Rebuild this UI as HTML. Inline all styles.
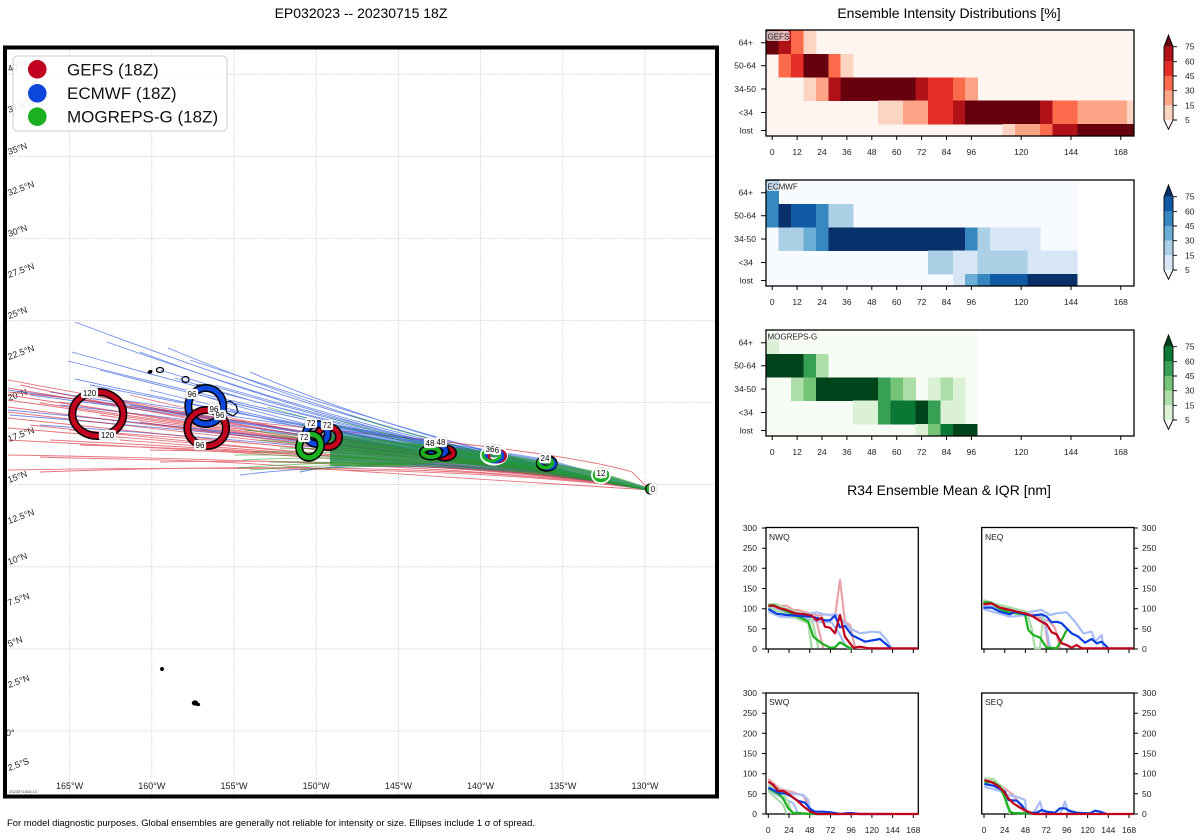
<!DOCTYPE html>
<html><head><meta charset="utf-8"><style>
html,body{margin:0;padding:0;background:#fff;}
svg{display:block;font-family:"Liberation Sans","DejaVu Sans",sans-serif;}
.trk path{fill:none;stroke-width:0.9;}
.pl{fill:none;stroke-linejoin:round;}
</style></head><body>
<svg width="1200" height="840" viewBox="0 0 1200 840" xmlns="http://www.w3.org/2000/svg">
<rect width="1200" height="840" fill="#fff"/>
<defs>
<clipPath id="mapclip"><rect x="7" y="49" width="709" height="746"/></clipPath>
<clipPath id="hm1"><rect x="766" y="30" width="368" height="106"/></clipPath>
<clipPath id="hm2"><rect x="766" y="180" width="368" height="106"/></clipPath>
<clipPath id="hm3"><rect x="766" y="330" width="368" height="106"/></clipPath>
</defs>

<!-- ===== MAP ===== -->
<text x="361" y="18" font-size="14" text-anchor="middle">EP032023 -- 20230715 18Z</text>
<g clip-path="url(#mapclip)">
<g stroke="#c8c8c8" stroke-width="0.8" stroke-dasharray="1.2,1.2">
<line x1="69.6" y1="47" x2="69.6" y2="797"/><line x1="151.8" y1="47" x2="151.8" y2="797"/><line x1="234" y1="47" x2="234" y2="797"/><line x1="316.2" y1="47" x2="316.2" y2="797"/><line x1="398.4" y1="47" x2="398.4" y2="797"/><line x1="480.6" y1="47" x2="480.6" y2="797"/><line x1="562.8" y1="47" x2="562.8" y2="797"/><line x1="645" y1="47" x2="645" y2="797"/>
<line x1="5" y1="74.2" x2="718" y2="74.2"/><line x1="5" y1="156.3" x2="718" y2="156.3"/><line x1="5" y1="238.4" x2="718" y2="238.4"/><line x1="5" y1="320.5" x2="718" y2="320.5"/><line x1="5" y1="402.6" x2="718" y2="402.6"/><line x1="5" y1="484.7" x2="718" y2="484.7"/><line x1="5" y1="566.8" x2="718" y2="566.8"/><line x1="5" y1="648.9" x2="718" y2="648.9"/><line x1="5" y1="731" x2="718" y2="731"/>
</g>
<g font-size="9" fill="#222">
<text transform="translate(9,72) rotate(-20)">40°N</text>
<text transform="translate(9,113) rotate(-20)">37.5°N</text>
<text transform="translate(9,155) rotate(-20)">35°N</text>
<text transform="translate(9,196) rotate(-20)">32.5°N</text>
<text transform="translate(9,237) rotate(-20)">30°N</text>
<text transform="translate(9,278) rotate(-20)">27.5°N</text>
<text transform="translate(9,319) rotate(-20)">25°N</text>
<text transform="translate(9,360) rotate(-20)">22.5°N</text>
<text transform="translate(9,401) rotate(-20)">20°N</text>
<text transform="translate(9,442) rotate(-20)">17.5°N</text>
<text transform="translate(9,483) rotate(-20)">15°N</text>
<text transform="translate(9,524) rotate(-20)">12.5°N</text>
<text transform="translate(9,565) rotate(-20)">10°N</text>
<text transform="translate(9,606) rotate(-20)">7.5°N</text>
<text transform="translate(9,647) rotate(-20)">5°N</text>
<text transform="translate(9,688) rotate(-20)">2.5°N</text>
<text transform="translate(6,736)">0°</text>
<text transform="translate(9,771) rotate(-20)">2.5°S</text>
</g>
<g font-size="9" fill="#222" text-anchor="middle">
<text x="69.6" y="789">165°W</text><text x="151.8" y="789">160°W</text><text x="234" y="789">155°W</text><text x="316.2" y="789">150°W</text><text x="398.4" y="789">145°W</text><text x="480.6" y="789">140°W</text><text x="562.8" y="789">135°W</text><text x="645" y="789">130°W</text>
</g>
<text x="9" y="793" font-size="4" fill="#333">2023071602:13</text>

<!-- islands -->
<g stroke="#000" stroke-width="1.3" fill="#fff">
<ellipse cx="150" cy="372" rx="2" ry="1.2" fill="#000" transform="rotate(-30 150 372)"/>
<ellipse cx="160" cy="370" rx="3.5" ry="2.5"/>
<ellipse cx="185.5" cy="379.5" rx="3.5" ry="3"/>
<path d="M197,385 L205,385 L207,387 L213,388 L212,392 L206,391 L200,389 Z"/>
<path d="M223,403 L230,401 L236,405 L238,412 L233,416 L227,413 Z"/>
<circle cx="162" cy="669" r="1.3" fill="#000"/>
<ellipse cx="195" cy="703" rx="2.6" ry="2" fill="#000"/>
<ellipse cx="198" cy="704.5" rx="1.5" ry="1" fill="#000"/>
</g>

<!-- tracks -->
<g class="trk">
<g stroke="#2452e0" opacity="0.65">
<path d="M650,490 C520,462 360,430 75,322"/>
<path d="M650,490 C520,462 360,432 107,342"/>
<path d="M650,490 C520,463 350,432 68,361"/>
<path d="M650,490 C520,463 345,430 72,352"/>
<path d="M650,490 C520,463 340,433 100,370"/>
<path d="M650,490 C520,463 330,435 75,379"/>
<path d="M650,490 C520,464 320,432 8,390"/>
<path d="M650,490 C520,465 330,440 8,410"/>
<path d="M650,490 C520,465 320,440 10,415"/>
<path d="M650,490 C520,463 370,432 168,348"/>
<path d="M650,490 C520,463 360,435 140,352"/>
<path d="M650,490 C520,464 350,440 150,390"/>
<path d="M650,490 C520,465 350,442 200,395"/>
<path d="M650,490 C520,465 360,445 230,410"/>
<path d="M650,490 C520,466 360,448 40,425"/>
<path d="M650,490 C520,468 380,458 240,475"/>
<path d="M650,490 C520,467 380,455 300,472"/>
<path d="M650,490 C520,462 380,428 250,372"/>
<path d="M650,490 C520,462 400,430 190,360"/>
<path d="M650,490 C520,464 380,436 120,400"/>
<path d="M650,490 C520,465 370,440 60,405"/>
<path d="M650,490 C520,464 360,438 30,395"/>
<path d="M650,490 C520,466 380,446 260,430"/>
<path d="M650,490 C520,465 390,440 280,420"/>
<path d="M650,490 C520,463 390,436 215,385"/>
<path d="M650,490 C520,464 370,438 175,378"/>
<path d="M650,490 C520,464 350,436 90,385"/>
<path d="M650,490 C520,465 340,440 130,405"/>
<path d="M650,490 C520,465 360,442 180,412"/>
<path d="M650,490 C520,466 350,444 110,420"/>
<path d="M650,490 C520,463 360,432 160,370"/>
<path d="M650,490 C520,464 370,436 220,400"/>
<path d="M650,490 C520,466 360,446 200,430"/>
<path d="M650,490 C520,464 340,437 50,392"/>
</g>
<g stroke="#d7192a" opacity="0.6">
<path d="M650,490 C520,465 330,440 8,380"/>
<path d="M650,490 C520,465 330,442 8,388"/>
<path d="M650,490 C520,466 330,444 8,395"/>
<path d="M650,490 C520,466 320,445 8,400"/>
<path d="M650,490 C520,467 320,447 8,407"/>
<path d="M650,490 C520,467 320,448 8,412"/>
<path d="M650,490 C520,468 310,450 8,418"/>
<path d="M650,490 C520,468 300,452 8,428"/>
<path d="M650,490 C520,469 300,455 8,440"/>
<path d="M650,490 C520,470 300,460 8,455"/>
<path d="M650,490 C520,471 300,465 8,470"/>
<path d="M650,490 C520,470 320,462 40,472"/>
<path d="M650,490 C520,468 300,452 50,440"/>
<path d="M650,490 C520,467 310,445 60,402"/>
<path d="M650,490 C520,466 320,444 90,395"/>
<path d="M650,490 C520,466 330,444 130,395"/>
<path d="M650,490 C520,468 320,455 120,440"/>
<path d="M650,490 C520,467 320,450 20,385"/>
<path d="M650,490 C520,469 310,455 30,425"/>
<path d="M650,490 C560,484 420,476 300,467 S120,460 40,457"/>
<path d="M650,490 C520,466 340,445 160,410"/>
<path d="M650,490 C520,467 340,448 70,430"/>
<path d="M650,490 L632,472 C600,462 520,448 330,430 S150,405 8,392"/>
<path d="M650,490 C520,467 330,452 150,450"/>
<path d="M650,490 C520,466 330,446 100,415"/>
<path d="M650,490 C520,467 330,448 180,428"/>
<path d="M650,490 C520,466 340,446 40,403"/>
<path d="M650,490 C520,468 320,452 80,445"/>
<path d="M650,490 C520,467 330,449 140,422"/>
<path d="M650,490 C520,469 330,458 160,462"/>
</g>
<polygon points="650,488 547,459 440,442 330,424 330,462 440,467 547,473 650,491" fill="#2452e0" opacity="0.5" stroke="none"/>
<polygon points="650,488 600,472 547,462 493,452 440,446 380,440 330,433 330,466 380,466 440,463 493,466 547,472 600,482 650,491" fill="#1f9a24" opacity="0.65" stroke="none"/>
<g stroke="#1ca01c" opacity="0.6">
<path d="M650,490 C540,468 400,455 237,468"/>
<path d="M650,490 C540,468 400,452 243,460"/>
<path d="M650,490 C540,467 400,445 267,407"/>
<path d="M650,490 C540,468 400,450 253,452"/>
<path d="M650,490 C540,467 400,446 245,430"/>
<path d="M650,490 C540,468 400,452 260,440"/>
<path d="M650,490 C540,469 400,458 250,470"/>
<path d="M650,490 C540,467 420,447 300,425"/>
<path d="M650,490 C540,468 420,450 280,448"/>
<path d="M650,490 C540,469 420,460 300,470"/>
<path d="M650,490 C540,467 420,446 330,418"/>
<path d="M650,490 C540,468 400,454 235,455"/>
<path d="M650,490 C540,468 400,449 270,435"/>
<path d="M650,490 C540,466 420,440 350,415"/>
<path d="M650,490 C540,469 410,462 270,462"/>
</g>
</g>

<!-- rings -->
<g fill="none">
<ellipse cx="97.8" cy="414" rx="25.5" ry="22" stroke="#000" stroke-width="8"/>
<ellipse cx="97.8" cy="414" rx="25.5" ry="22" stroke="#c1001f" stroke-width="5"/>
<ellipse cx="205.8" cy="406" rx="17.5" ry="18" stroke="#000" stroke-width="8"/>
<ellipse cx="205.8" cy="406" rx="17.5" ry="18" stroke="#0b47dc" stroke-width="5"/>
<ellipse cx="206.7" cy="428" rx="19.3" ry="18" stroke="#000" stroke-width="8"/>
<ellipse cx="206.7" cy="428" rx="19.3" ry="18" stroke="#c1001f" stroke-width="5"/>
<ellipse cx="328" cy="437" rx="11" ry="10" stroke="#000" stroke-width="8"/>
<ellipse cx="328" cy="437" rx="11" ry="10" stroke="#c1001f" stroke-width="5"/>
<ellipse cx="316.7" cy="434" rx="11" ry="10" stroke="#000" stroke-width="8"/>
<ellipse cx="316.7" cy="434" rx="11" ry="10" stroke="#0b47dc" stroke-width="5"/>
<ellipse cx="310" cy="446" rx="10.5" ry="12" stroke="#000" stroke-width="8" transform="rotate(30 310 446)"/>
<ellipse cx="310" cy="446" rx="10.5" ry="12" stroke="#1ab01f" stroke-width="5" transform="rotate(30 310 446)"/>
<ellipse cx="445" cy="453" rx="8.5" ry="5" stroke="#000" stroke-width="7"/>
<ellipse cx="445" cy="453" rx="8.5" ry="5" stroke="#c1001f" stroke-width="4"/>
<ellipse cx="438" cy="450.8" rx="8" ry="4.5" stroke="#000" stroke-width="7"/>
<ellipse cx="438" cy="450.8" rx="8" ry="4.5" stroke="#0b47dc" stroke-width="4"/>
<ellipse cx="431" cy="452.5" rx="8.5" ry="4.5" stroke="#000" stroke-width="7"/>
<ellipse cx="431" cy="452.5" rx="8.5" ry="4.5" stroke="#1ab01f" stroke-width="4"/>
<ellipse cx="494" cy="455" rx="10" ry="6.5" stroke="#fff" stroke-width="8"/>
<ellipse cx="497" cy="456" rx="8.5" ry="6" stroke="#c1001f" stroke-width="3"/>
<ellipse cx="494.5" cy="456" rx="8.5" ry="6" stroke="#0b47dc" stroke-width="3"/>
<ellipse cx="491.5" cy="455" rx="8.5" ry="6" stroke="#1ab01f" stroke-width="3"/>
<ellipse cx="546.7" cy="463.3" rx="7.5" ry="5" stroke="#000" stroke-width="7"/>
<ellipse cx="548" cy="463.8" rx="7" ry="4.6" stroke="#0b47dc" stroke-width="3.5"/>
<ellipse cx="545.5" cy="463" rx="7" ry="4.6" stroke="#1ab01f" stroke-width="3.5"/>
<ellipse cx="601" cy="475" rx="6.5" ry="5.5" stroke="#fff" stroke-width="7"/>
<ellipse cx="601" cy="475" rx="6.5" ry="5.5" stroke="#1ab01f" stroke-width="3.5"/>
<ellipse cx="650" cy="489" rx="3.5" ry="4" stroke="#000" stroke-width="3"/>
<ellipse cx="650.5" cy="489" rx="3.2" ry="3.6" stroke="#1ab01f" stroke-width="2"/>
</g>
<g font-size="8" text-anchor="middle">
<g fill="#fff" stroke="#bbb" stroke-width="0.4">
<rect x="81" y="388" width="17" height="10" rx="2"/><rect x="99" y="430" width="17" height="10" rx="2"/>
<rect x="186" y="389" width="12" height="10" rx="2"/><rect x="208" y="404" width="12" height="10" rx="2"/><rect x="214" y="410" width="12" height="10" rx="2"/><rect x="194" y="440" width="12" height="10" rx="2"/>
<rect x="305" y="418" width="12" height="10" rx="2"/><rect x="321" y="420" width="12" height="10" rx="2"/><rect x="298" y="432" width="12" height="10" rx="2"/>
<rect x="424" y="438" width="12" height="10" rx="2"/><rect x="435" y="437" width="12" height="10" rx="2"/>
<rect x="484" y="444" width="12" height="10" rx="2"/><rect x="492" y="445" width="9" height="10" rx="2"/>
<rect x="539" y="453" width="12" height="10" rx="2"/><rect x="595" y="468" width="12" height="10" rx="2"/><rect x="649" y="484" width="8" height="10" rx="2"/>
</g>
<text x="89.5" y="396">120</text><text x="107.5" y="438">120</text>
<text x="192" y="397">96</text><text x="214" y="412">96</text><text x="220" y="418">96</text><text x="200" y="448">96</text>
<text x="311" y="426">72</text><text x="327" y="428">72</text><text x="304" y="440">72</text>
<text x="430" y="446">48</text><text x="441" y="445">48</text>
<text x="490" y="452">36</text><text x="497" y="453">6</text>
<text x="545" y="461">24</text><text x="601" y="476">12</text><text x="653" y="492">0</text>
</g>
</g>
<!-- legend -->
<rect x="13" y="56" width="214" height="75" rx="4" fill="#fff" fill-opacity="0.9" stroke="#ccc" stroke-width="1"/>
<circle cx="37.3" cy="69.3" r="9.3" fill="#c1001f"/>
<circle cx="37.3" cy="93.3" r="9.3" fill="#0b47dc"/>
<circle cx="37.3" cy="116.7" r="9.3" fill="#1ab01f"/>
<g font-size="17" fill="#111">
<text x="67" y="75.5">GEFS (18Z)</text>
<text x="67" y="99">ECMWF (18Z)</text>
<text x="67" y="122.5">MOGREPS-G (18Z)</text>
</g>
<rect x="5" y="47.5" width="712" height="749" fill="none" stroke="#000" stroke-width="4"/>
<text x="7" y="826" font-size="9" textLength="528" lengthAdjust="spacingAndGlyphs">For model diagnostic purposes. Global ensembles are generally not reliable for intensity or size. Ellipses include 1 σ of spread.</text>

<!-- ===== HEATMAPS ===== -->
<text x="949" y="18" font-size="14" text-anchor="middle">Ensemble Intensity Distributions [%]</text>
<g shape-rendering="crispEdges" clip-path="url(#hm1)">
<rect x="766" y="30" width="368" height="106" fill="#fff5f0"/>
<rect x="766" y="30" width="12.9" height="24.4" fill="#67000d"/><rect x="778.45" y="30" width="12.9" height="24.4" fill="#b11218"/><rect x="790.9" y="30" width="12.9" height="24.4" fill="#fb6a4a"/><rect x="803.35" y="30" width="12.9" height="24.4" fill="#fdd4c2"/>
<rect x="778.45" y="54" width="12.9" height="23.7" fill="#fb6a4a"/><rect x="790.9" y="54" width="12.9" height="23.7" fill="#e32f27"/><rect x="803.35" y="54" width="25.3" height="23.7" fill="#67000d"/><rect x="828.25" y="54" width="12.9" height="23.7" fill="#fb6a4a"/><rect x="840.7" y="54" width="12.9" height="23.7" fill="#fdd4c2"/>
<rect x="803.35" y="77.3" width="12.9" height="23.8" fill="#fdd4c2"/><rect x="815.8" y="77.3" width="12.9" height="23.8" fill="#fca486"/><rect x="828.25" y="77.3" width="12.9" height="23.8" fill="#b11218"/><rect x="840.7" y="77.3" width="75.1" height="23.8" fill="#67000d"/><rect x="915.4" y="77.3" width="12.9" height="23.8" fill="#b11218"/><rect x="927.85" y="77.3" width="25.3" height="23.8" fill="#e32f27"/><rect x="952.75" y="77.3" width="12.9" height="23.8" fill="#fb6a4a"/><rect x="965.2" y="77.3" width="12.9" height="23.8" fill="#fca486"/>
<rect x="878.05" y="100.7" width="25.3" height="23.7" fill="#fdd4c2"/><rect x="902.95" y="100.7" width="25.3" height="23.7" fill="#fca486"/><rect x="927.85" y="100.7" width="25.3" height="23.7" fill="#e32f27"/><rect x="952.75" y="100.7" width="12.9" height="23.7" fill="#b11218"/><rect x="965.2" y="100.7" width="75.1" height="23.7" fill="#67000d"/><rect x="1039.9" y="100.7" width="12.9" height="23.7" fill="#b11218"/><rect x="1052.35" y="100.7" width="25.3" height="23.7" fill="#fb6a4a"/><rect x="1077.25" y="100.7" width="50.2" height="23.7" fill="#fca486"/><rect x="1127.05" y="100.7" width="8" height="23.7" fill="#fdd4c2"/>
<rect x="1002.55" y="124" width="12.9" height="12" fill="#fdd4c2"/><rect x="1015" y="124" width="25.3" height="12" fill="#fca486"/><rect x="1039.9" y="124" width="12.9" height="12" fill="#fb6a4a"/><rect x="1052.35" y="124" width="25.3" height="12" fill="#b11218"/><rect x="1077.25" y="124" width="58" height="12" fill="#67000d"/>
</g>
<g shape-rendering="crispEdges" clip-path="url(#hm2)">
<rect x="766" y="180" width="311.25" height="106" fill="#f7fbff"/>
<rect x="766" y="180" width="12.9" height="24.4" fill="#3787c0"/>
<rect x="766" y="204" width="12.9" height="23.7" fill="#3787c0"/><rect x="778.45" y="204" width="12.9" height="23.7" fill="#08306b"/><rect x="790.9" y="204" width="25.3" height="23.7" fill="#105ba4"/><rect x="815.8" y="204" width="12.9" height="23.7" fill="#3787c0"/><rect x="828.25" y="204" width="25.3" height="23.7" fill="#abd0e6"/>
<rect x="778.45" y="227.3" width="25.3" height="23.8" fill="#abd0e6"/><rect x="803.35" y="227.3" width="12.9" height="23.8" fill="#6aaed6"/><rect x="815.8" y="227.3" width="12.9" height="23.8" fill="#3787c0"/><rect x="828.25" y="227.3" width="137.4" height="23.8" fill="#08306b"/><rect x="965.2" y="227.3" width="12.9" height="23.8" fill="#3787c0"/><rect x="977.65" y="227.3" width="12.9" height="23.8" fill="#abd0e6"/><rect x="990.1" y="227.3" width="50.2" height="23.8" fill="#d6e6f4"/>
<rect x="927.85" y="250.7" width="25.3" height="23.7" fill="#abd0e6"/><rect x="952.75" y="250.7" width="25.3" height="23.7" fill="#d6e6f4"/><rect x="977.65" y="250.7" width="50.2" height="23.7" fill="#abd0e6"/><rect x="1027.45" y="250.7" width="49.8" height="23.7" fill="#d6e6f4"/>
<rect x="952.75" y="274" width="12.9" height="12" fill="#d6e6f4"/><rect x="965.2" y="274" width="12.9" height="12" fill="#6aaed6"/><rect x="977.65" y="274" width="12.9" height="12" fill="#3787c0"/><rect x="990.1" y="274" width="37.8" height="12" fill="#105ba4"/><rect x="1027.45" y="274" width="49.8" height="12" fill="#08306b"/>
</g>
<g shape-rendering="crispEdges" clip-path="url(#hm3)">
<rect x="766" y="330" width="211.65" height="106" fill="#f7fcf5"/>
<rect x="766" y="330" width="12.9" height="24.4" fill="#dbf1d6"/>
<rect x="766" y="354" width="37.8" height="23.7" fill="#00441b"/><rect x="803.35" y="354" width="12.9" height="23.7" fill="#37a055"/><rect x="815.8" y="354" width="12.9" height="23.7" fill="#aedea7"/>
<rect x="790.9" y="377.3" width="12.9" height="23.8" fill="#aedea7"/><rect x="803.35" y="377.3" width="12.9" height="23.8" fill="#73c476"/><rect x="815.8" y="377.3" width="62.7" height="23.8" fill="#00441b"/><rect x="878.05" y="377.3" width="12.9" height="23.8" fill="#37a055"/><rect x="890.5" y="377.3" width="12.9" height="23.8" fill="#73c476"/><rect x="902.95" y="377.3" width="12.9" height="23.8" fill="#aedea7"/><rect x="927.85" y="377.3" width="12.9" height="23.8" fill="#dbf1d6"/><rect x="940.3" y="377.3" width="12.9" height="23.8" fill="#aedea7"/><rect x="952.75" y="377.3" width="12.9" height="23.8" fill="#dbf1d6"/>
<rect x="853.15" y="400.7" width="25.3" height="23.7" fill="#dbf1d6"/><rect x="878.05" y="400.7" width="12.9" height="23.7" fill="#37a055"/><rect x="890.5" y="400.7" width="25.3" height="23.7" fill="#0b7734"/><rect x="915.4" y="400.7" width="12.9" height="23.7" fill="#00441b"/><rect x="927.85" y="400.7" width="12.9" height="23.7" fill="#37a055"/><rect x="940.3" y="400.7" width="25.3" height="23.7" fill="#dbf1d6"/>
<rect x="915.4" y="424" width="12.9" height="12" fill="#dbf1d6"/><rect x="927.85" y="424" width="12.9" height="12" fill="#73c476"/><rect x="940.3" y="424" width="12.9" height="12" fill="#0b7734"/><rect x="952.75" y="424" width="24.9" height="12" fill="#00441b"/>
</g>
<g fill="none" stroke="#000" stroke-width="1.3">
<rect x="766" y="30" width="368" height="106"/>
<rect x="766" y="180" width="368" height="106"/>
<rect x="766" y="330" width="368" height="106"/>
</g>
<g font-size="8">
<rect x="766.5" y="31" width="23" height="10" fill="#fff" fill-opacity="0.7" rx="2"/><text x="767.5" y="39.5" fill="#222">GEFS</text>
<rect x="766.5" y="181" width="33" height="10" fill="#fff" fill-opacity="0.7" rx="2"/><text x="767.5" y="189.5" fill="#222">ECMWF</text>
<rect x="766.5" y="331" width="51" height="10" fill="#fff" fill-opacity="0.7" rx="2"/><text x="767.5" y="339.5" fill="#222">MOGREPS-G</text>
</g>
<!-- heatmap ticks -->
<g id="hmticks">
<g stroke="#000" stroke-width="1">
<path d="M761,42.7H766M761,65.7H766M761,89H766M761,112.5H766M761,130.5H766"/>
<path d="M772.2,136V140M797.1,136V140M822,136V140M846.9,136V140M871.8,136V140M896.7,136V140M921.6,136V140M946.5,136V140M971.4,136V140M1021.2,136V140M1071,136V140M1120.8,136V140"/>
</g>
<g font-size="8.5" text-anchor="end" fill="#222">
<text x="753" y="45.5">64+</text><text x="756" y="68.5">50-64</text><text x="756" y="92">34-50</text><text x="753" y="115.5">&lt;34</text><text x="753" y="133.5">lost</text>
</g>
<g font-size="8.5" text-anchor="middle" fill="#222">
<text x="772.2" y="155">0</text><text x="797.1" y="155">12</text><text x="822" y="155">24</text><text x="846.9" y="155">36</text><text x="871.8" y="155">48</text><text x="896.7" y="155">60</text><text x="921.6" y="155">72</text><text x="946.5" y="155">84</text><text x="971.4" y="155">96</text><text x="1021.2" y="155">120</text><text x="1071" y="155">144</text><text x="1120.8" y="155">168</text>
</g>
</g>
<use href="#hmticks" transform="translate(0,150)"/>
<use href="#hmticks" transform="translate(0,300)"/>
<!-- colorbars -->
<g id="cb1">
<polygon points="1164,46.7 1173,46.7 1168.5,35" fill="#67000d"/>
<rect x="1164" y="46.7" width="9" height="15" fill="#b11218"/>
<rect x="1164" y="61.7" width="9" height="14.3" fill="#e32f27"/>
<rect x="1164" y="76" width="9" height="14.7" fill="#fb6a4a"/>
<rect x="1164" y="90.7" width="9" height="14.6" fill="#fca486"/>
<rect x="1164" y="105.3" width="9" height="14.7" fill="#fdd4c2"/>
<polygon points="1164,120 1173,120 1168.5,129.3" fill="#fff5f0"/>
</g>
<g transform="translate(0,150)">
<polygon points="1164,46.7 1173,46.7 1168.5,35" fill="#08306b"/>
<rect x="1164" y="46.7" width="9" height="15" fill="#105ba4"/>
<rect x="1164" y="61.7" width="9" height="14.3" fill="#3787c0"/>
<rect x="1164" y="76" width="9" height="14.7" fill="#6aaed6"/>
<rect x="1164" y="90.7" width="9" height="14.6" fill="#abd0e6"/>
<rect x="1164" y="105.3" width="9" height="14.7" fill="#d6e6f4"/>
<polygon points="1164,120 1173,120 1168.5,129.3" fill="#f7fbff"/>
</g>
<g transform="translate(0,300)">
<polygon points="1164,46.7 1173,46.7 1168.5,35" fill="#00441b"/>
<rect x="1164" y="46.7" width="9" height="15" fill="#0b7734"/>
<rect x="1164" y="61.7" width="9" height="14.3" fill="#37a055"/>
<rect x="1164" y="76" width="9" height="14.7" fill="#73c476"/>
<rect x="1164" y="90.7" width="9" height="14.6" fill="#aedea7"/>
<rect x="1164" y="105.3" width="9" height="14.7" fill="#dbf1d6"/>
<polygon points="1164,120 1173,120 1168.5,129.3" fill="#f7fcf5"/>
</g>
<g id="cbo">
<polygon points="1168.5,35 1173,46.7 1173,120 1168.5,129.3 1164,120 1164,46.7" fill="none" stroke="#000" stroke-width="0.9"/>
<path d="M1173,46.7H1177M1173,61.7H1177M1173,76H1177M1173,90.7H1177M1173,105.3H1177M1173,120H1177" stroke="#000" stroke-width="0.9"/>
<g font-size="8.5" fill="#222">
<text x="1185" y="49.7">75</text><text x="1185" y="64.7">60</text><text x="1185" y="79">45</text><text x="1185" y="93.7">30</text><text x="1185" y="108.3">15</text><text x="1185" y="123">5</text>
</g>
</g>
<use href="#cbo" transform="translate(0,150)"/>
<use href="#cbo" transform="translate(0,300)"/>

<!-- ===== R34 ===== -->
<text x="949" y="495" font-size="14" text-anchor="middle">R34 Ensemble Mean &amp; IQR [nm]</text>
<g fill="none" stroke="#000" stroke-width="1.3">
<rect x="766" y="527.5" width="152.3" height="121.5"/>
<rect x="981.7" y="527.5" width="152.3" height="121.5"/>
<rect x="766" y="693" width="152.3" height="121"/>
<rect x="981.7" y="693" width="152.3" height="121"/>
</g>
<g font-size="8.5" fill="#222">
<text x="769" y="540">NWQ</text><text x="985" y="540">NEQ</text><text x="769" y="705">SWQ</text><text x="985" y="705">SEQ</text>
</g>
<!-- y ticks -->
<g stroke="#000" stroke-width="1">
<path d="M762,649H766M762,628.8H766M762,608.7H766M762,588.5H766M762,568.3H766M762,548.2H766M762,528H766"/>
<path d="M1134,649H1138M1134,628.8H1138M1134,608.7H1138M1134,588.5H1138M1134,568.3H1138M1134,548.2H1138M1134,528H1138"/>
<path d="M762,814H766M762,793.8H766M762,773.7H766M762,753.5H766M762,733.3H766M762,713.2H766M762,693H766"/>
<path d="M1134,814H1138M1134,793.8H1138M1134,773.7H1138M1134,753.5H1138M1134,733.3H1138M1134,713.2H1138M1134,693H1138"/>
<path d="M768.3,649V653M789,649V653M809.7,649V653M830.5,649V653M851.2,649V653M871.9,649V653M892.6,649V653M913.3,649V653"/>
<path d="M984,649V653M1004.7,649V653M1025.4,649V653M1046.2,649V653M1066.9,649V653M1087.6,649V653M1108.3,649V653M1129,649V653"/>
<path d="M768.3,814V818M789,814V818M809.7,814V818M830.5,814V818M851.2,814V818M871.9,814V818M892.6,814V818M913.3,814V818"/>
<path d="M984,814V818M1004.7,814V818M1025.4,814V818M1046.2,814V818M1066.9,814V818M1087.6,814V818M1108.3,814V818M1129,814V818"/>
</g>
<g font-size="8.5" fill="#222" text-anchor="end">
<text x="757" y="652">0</text><text x="757" y="631.8">50</text><text x="757" y="611.7">100</text><text x="757" y="591.5">150</text><text x="757" y="571.3">200</text><text x="757" y="551.2">250</text><text x="757" y="531">300</text>
<text x="757" y="817">0</text><text x="757" y="796.8">50</text><text x="757" y="776.7">100</text><text x="757" y="756.5">150</text><text x="757" y="736.3">200</text><text x="757" y="716.2">250</text><text x="757" y="696">300</text>
</g>
<g font-size="8.5" fill="#222">
<text x="1142" y="652">0</text><text x="1142" y="631.8">50</text><text x="1142" y="611.7">100</text><text x="1142" y="591.5">150</text><text x="1142" y="571.3">200</text><text x="1142" y="551.2">250</text><text x="1142" y="531">300</text>
<text x="1142" y="817">0</text><text x="1142" y="796.8">50</text><text x="1142" y="776.7">100</text><text x="1142" y="756.5">150</text><text x="1142" y="736.3">200</text><text x="1142" y="716.2">250</text><text x="1142" y="696">300</text>
</g>
<g font-size="8.5" fill="#222" text-anchor="middle">
<text x="768.3" y="833">0</text><text x="789" y="833">24</text><text x="809.7" y="833">48</text><text x="830.5" y="833">72</text><text x="851.2" y="833">96</text><text x="871.9" y="833">120</text><text x="892.6" y="833">144</text><text x="913.3" y="833">168</text>
<text x="984" y="833">0</text><text x="1004.7" y="833">24</text><text x="1025.4" y="833">48</text><text x="1046.2" y="833">72</text><text x="1066.9" y="833">96</text><text x="1087.6" y="833">120</text><text x="1108.3" y="833">144</text><text x="1129" y="833">168</text>
</g>

<!-- NWQ -->
<g transform="translate(740 515) scale(0.33333)">
<g class="pl" stroke-width="2.2">
<polyline vector-effect="non-scaling-stroke" stroke="#e8a3aa" points="85,268 105,268 120,272 140,272 160,285 175,285 195,292 215,296 235,302 255,298 270,300 285,305 300,195 315,320 330,330 345,398 400,400"/>
<polyline vector-effect="non-scaling-stroke" stroke="#e8a3aa" points="85,275 120,285 170,300 230,320 240,360 250,400"/>
<polyline vector-effect="non-scaling-stroke" stroke="#a7bdf7" points="85,275 120,288 160,296 200,298 230,292 260,300 290,298 310,320 330,340 360,355 395,350 420,352 440,375 455,400"/>
<polyline vector-effect="non-scaling-stroke" stroke="#a7bdf7" points="85,290 120,305 170,308 220,316 250,322 275,322 300,360 320,398 340,400"/>
<polyline vector-effect="non-scaling-stroke" stroke="#a8dca8" points="85,268 110,268 140,282 180,295 205,300 220,330 235,400"/>
<polyline vector-effect="non-scaling-stroke" stroke="#a8dca8" points="85,278 120,290 170,310 205,325 215,400"/>
<polyline vector-effect="non-scaling-stroke" stroke="#1ab01f" points="85,272 100,270 120,280 160,298 190,312 205,320 220,365 245,385 270,398 285,397 300,382 335,402"/>
<polyline vector-effect="non-scaling-stroke" stroke="#0b3ee0" points="85,282 110,296 140,300 180,303 215,305 235,310 255,316 270,316 285,302 300,337 315,333 335,360 375,380 420,372 455,402"/>
<polyline vector-effect="non-scaling-stroke" stroke="#c0001a" points="85,272 100,272 120,280 140,285 165,295 195,298 215,302 230,316 245,308 255,335 270,338 285,355 300,300 315,365 340,398 360,395 385,400 535,400"/>
</g></g>
<!-- NEQ -->
<g transform="translate(960 515) scale(0.33333)">
<g class="pl" stroke-width="2.2">
<polyline vector-effect="non-scaling-stroke" stroke="#e8a3aa" points="70,265 120,272 170,285 240,310 270,320 285,340 300,400"/>
<polyline vector-effect="non-scaling-stroke" stroke="#e8a3aa" points="70,270 150,290 230,300 255,330 265,398"/>
<polyline vector-effect="non-scaling-stroke" stroke="#a7bdf7" points="70,270 150,290 200,292 245,285 270,300 290,295 320,292 345,320 370,355 395,350 405,380 425,360 430,400"/>
<polyline vector-effect="non-scaling-stroke" stroke="#a7bdf7" points="70,282 150,305 200,300 240,300 255,320 270,398"/>
<polyline vector-effect="non-scaling-stroke" stroke="#a8dca8" points="70,255 120,270 200,290 215,340 225,400 240,400 250,300"/>
<polyline vector-effect="non-scaling-stroke" stroke="#1ab01f" points="70,262 90,262 120,282 145,292 165,295 195,298 205,345 220,360 240,368 260,398 275,398 290,400 305,375 320,345"/>
<polyline vector-effect="non-scaling-stroke" stroke="#0b3ee0" points="70,278 95,278 120,290 150,298 165,290 195,298 215,302 245,298 260,305 275,322 290,320 305,325 320,340 335,355 355,365 375,383 395,372 410,385 425,380 445,400"/>
<polyline vector-effect="non-scaling-stroke" stroke="#c0001a" points="70,268 95,265 120,278 150,285 170,290 195,295 220,305 240,318 260,328 275,352 290,358 305,385 320,390 335,398 350,390 365,400 400,400 520,400"/>
</g></g>
<!-- SWQ / SEQ -->
<g transform="translate(740 685) scale(0.33333)">
<g class="pl" stroke-width="2.2">
<polyline vector-effect="non-scaling-stroke" stroke="#e8a3aa" points="85,282 120,312 160,322 190,332 200,350 211,385"/>
<polyline vector-effect="non-scaling-stroke" stroke="#a7bdf7" points="85,300 120,322 190,330 205,345 211,387"/>
<polyline vector-effect="non-scaling-stroke" stroke="#a7bdf7" points="85,315 160,355 175,387"/>
<polyline vector-effect="non-scaling-stroke" stroke="#a8dca8" points="85,300 120,315 145,350 155,387"/>
<polyline vector-effect="non-scaling-stroke" stroke="#a8dca8" points="85,318 130,360 140,387"/>
<polyline vector-effect="non-scaling-stroke" stroke="#1ab01f" points="85,310 100,318 120,330 130,342 145,370 160,384 175,384 211,387 300,387"/>
<polyline vector-effect="non-scaling-stroke" stroke="#0b3ee0" points="85,308 100,315 120,325 135,325 155,335 175,348 195,353 211,372 225,380 250,380 272,382 300,387 330,384 360,387 455,387"/>
<polyline vector-effect="non-scaling-stroke" stroke="#c0001a" points="85,290 100,300 115,318 130,318 150,330 175,350 195,368 211,380 230,387 535,387"/>

<polyline vector-effect="non-scaling-stroke" stroke="#e8a3aa" points="733,280 780,300 820,330 840,360 857,387"/>
<polyline vector-effect="non-scaling-stroke" stroke="#a7bdf7" points="733,305 780,318 800,330 830,335 855,345 860,385 880,387 900,350 910,385 960,387 975,350 985,385 1000,387"/>
<polyline vector-effect="non-scaling-stroke" stroke="#a8dca8" points="733,280 760,282 790,310 800,360 810,387"/>
<polyline vector-effect="non-scaling-stroke" stroke="#1ab01f" points="733,292 760,292 780,305 795,340 810,380 820,384 900,387"/>
<polyline vector-effect="non-scaling-stroke" stroke="#0b3ee0" points="733,297 760,302 780,312 795,320 805,345 830,347 845,360 857,378 870,383 890,383 905,375 920,380 945,383 960,370 975,370 990,378 1010,383 1050,385 1065,377 1080,380 1100,387"/>
<polyline vector-effect="non-scaling-stroke" stroke="#c0001a" points="733,285 755,292 770,300 790,318 805,340 820,355 840,368 860,378 880,387 1180,387"/>
</g></g>
</svg>
</body></html>
